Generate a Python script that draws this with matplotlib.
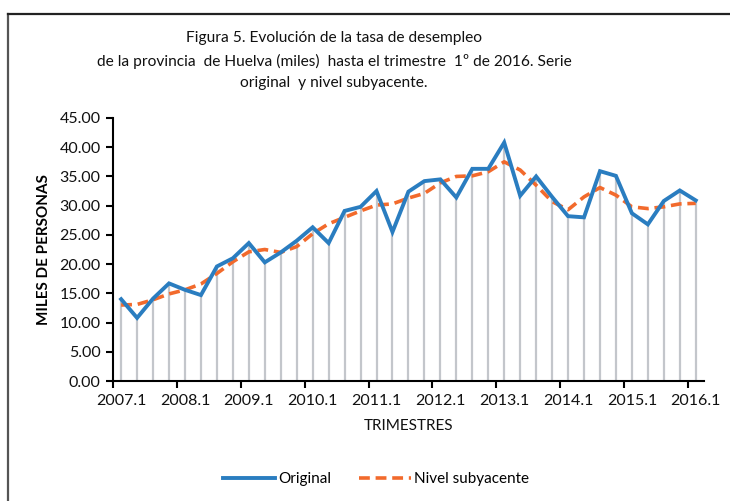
import numpy as np
import matplotlib.pyplot as plt
from matplotlib.lines import Line2D

plt.rcParams['font.family'] = ['Lato', 'DejaVu Sans']

# Trimestres 2007.1 .. 2016.1
trimestres = [f"{a}.{q}" for a in range(2007, 2017) for q in range(1, 5)][:37]

original = [14.0, 10.8, 14.1, 16.7, 15.6, 14.7, 19.6, 21.0, 23.6, 20.3,
            22.0, 24.0, 26.3, 23.6, 29.1, 29.8, 32.5, 25.5, 32.4, 34.2,
            34.5, 31.4, 36.3, 36.3, 40.8, 31.7, 35.0, 31.5, 28.2, 28.0,
            35.9, 35.1, 28.7, 26.8, 30.8, 32.6, 30.9]

subyacente = [13.0, 13.1, 13.9, 14.9, 15.6, 16.6, 18.4, 20.4, 22.1, 22.5,
              22.0, 23.0, 25.2, 26.9, 28.0, 29.1, 30.1, 30.3, 31.3, 32.1,
              33.9, 35.0, 35.1, 35.8, 37.5, 36.1, 33.5, 30.7, 29.3, 31.5,
              33.1, 31.8, 29.8, 29.5, 29.8, 30.3, 30.4]

x = np.arange(len(trimestres))

fig = plt.figure(figsize=(7.3, 5.01), dpi=100)
ax = fig.add_axes([0.155, 0.2395, 0.809, 0.525])

# lineas verticales grises
ax.vlines(x, 0, original, color='#c3c6cb', lw=1.6, zorder=1)
ax.plot(x, original, color='#2a7dc0', lw=2.8, zorder=3, solid_joinstyle='miter')
ax.plot(x, subyacente, color='#f26a2c', lw=2.6, ls=(0, (3, 1.6)), zorder=2)

ax.set_xlim(-0.5, len(x) - 0.5)
ax.set_ylim(0, 45)
ax.set_yticks(np.arange(0, 46, 5))
ax.set_yticklabels([f"{v:.2f}" for v in np.arange(0, 46, 5)], fontsize=11.5,
                   color='#111111')
ax.set_xticks(x[::4])
ax.set_xticklabels(trimestres[::4], fontsize=11.5, color='#111111')
ax.set_xticks(np.arange(-0.5, len(x), 4), minor=True)
ax.tick_params(axis='x', which='major', length=0, pad=9)
ax.tick_params(axis='x', which='minor', length=5, width=1.5, direction='out')
ax.tick_params(axis='y', length=5, width=1.5, direction='out', pad=4)

for s in ['top', 'right']:
    ax.spines[s].set_visible(False)
for s in ['left', 'bottom']:
    ax.spines[s].set_linewidth(1.5)

ax.set_ylabel('MILES DE PERSONAS', fontsize=11, fontweight='bold', labelpad=6)
ax.set_xlabel('TRIMESTRES', fontsize=11, color='#111111', labelpad=8)

fig.text(0.4575, 1 - 31 / 501, 'Figura 5. Evolución de la tasa de desempleo\n'
         'de la provincia  de Huelva (miles)  hasta el trimestre  1º de 2016. Serie\n'
         'original  y nivel subyacente.', ha='center', va='top', fontsize=11.2,
         linespacing=1.7, color='#111111')

handles = [Line2D([], [], color='#2a7dc0', lw=2.8),
           Line2D([], [], color='#f26a2c', lw=2.6, ls=(0, (3, 1.6)))]
fig.legend(handles, ['Original', 'Nivel subyacente'], loc='center',
           bbox_to_anchor=(0.515, 0.044), ncol=2, frameon=False, fontsize=11,
           handlelength=3.4, handletextpad=0.2, columnspacing=1.8)

# marco
fig.add_artist(Line2D([8 / 730, 8 / 730], [0, 1 - 13.5 / 501], color='#555555',
                      lw=1.6, transform=fig.transFigure))
fig.add_artist(Line2D([8 / 730, 1], [1 - 13.5 / 501, 1 - 13.5 / 501], color='#222222',
                      lw=1.6, transform=fig.transFigure))

fig.savefig('out.png', dpi=100)
